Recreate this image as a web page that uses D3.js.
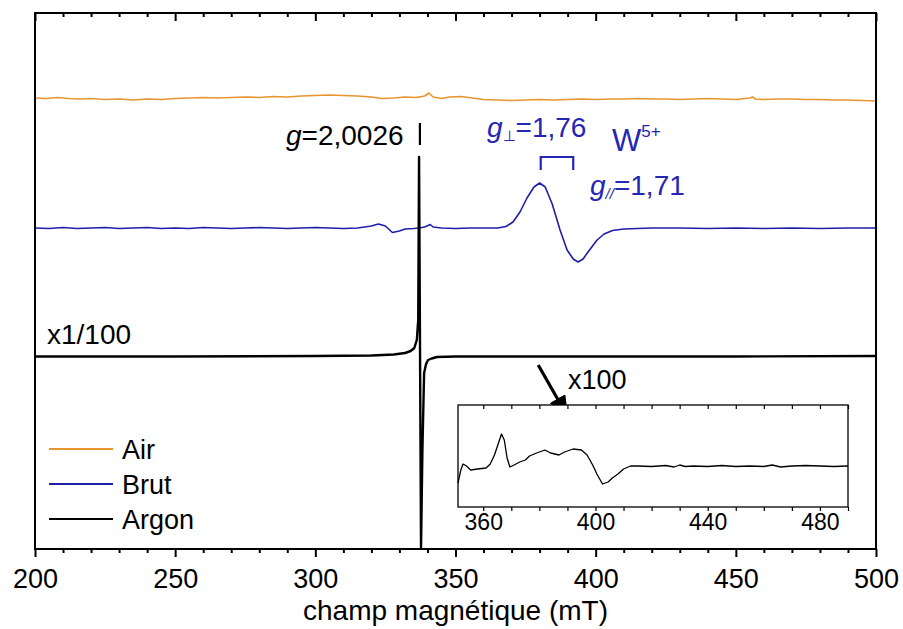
<!DOCTYPE html>
<html><head><meta charset="utf-8">
<script src="https://cdn.jsdelivr.net/npm/d3@7"></script>
<style>body{margin:0;background:#fff}svg{display:block;font-family:"Liberation Sans",Arial,sans-serif}</style>
</head><body><svg id="c" width="903" height="629"></svg>
<script>
// ---- data (field in mT, intensity in arbitrary units, traces offset vertically) ----
const airField = [200,204,208,212,216,220,225,230,235,240,245,250,255,260,265,270,275,280,285,290,295,300,305,310,315,320,324,328,332,336,339,340.5,342,345,348,352,356,360,365,370,375,380,385,390,395,400,405,410,415,420,425,430,435,440,445,450,455,456,457,460,465,470,475,480,485,490,495,500];
const airValues = [451,450.5,451.5,450.5,450,450.5,449.5,450,449,450,449.5,450.5,451,451.5,451,451.5,452,451.5,452.5,452,453,453.5,454,453.5,453,452,450.5,451,452,451.5,453,456,452,450.5,452,452.5,451,449.5,449,448.5,449,449.5,449,449.5,450,449.5,450,450,450.5,450,450,449.5,450,450.5,450,449.5,451,452,450,449.5,450,450,449.5,449.5,449,449,448.5,448];

const brutField = [200,205,210,215,220,225,230,235,240,245,250,255,260,265,270,275,280,285,290,295,300,305,310,315,320,322.5,325,327.5,330,332,335,337,339,341,342,345,350,355,360,365,368,370.5,373,375.5,378,380,382,384.5,387.3,389.8,392,393.7,395.5,397,400.5,403,406,410,415,420,430,440,450,460,470,480,490,500];
const brutValues = [321,320.5,321.5,320.5,321,321.5,320.5,321,321.5,320.5,321,320.5,321.5,321,320.5,321,321.5,321,320.5,321,321.5,321,320.5,321,323,325,323,316.5,318,320,320.5,321,322,324.5,322,321,320.5,321,321,321,322.5,327,337,351,362,366,362,345,319,299,290,287,290,296,309,315,318.5,320,320.5,321,321,320.5,321,320.5,321,320.5,321,321];

const argonField = [200,250,300,320,328,332,334,335.3,336.2,336.7,337.0,337.7,338.2,338.8,339.5,340.2,341.5,343.4,350,400,450,500];
const argonValues = [192.5,192.5,193,193.5,194.5,196,198,201,209,229,392,2,99,176,185,189,190.5,192,192.5,192.5,192.5,193];

const insetField = [351,352,352.8,354,355.5,358,361,362.5,364,366.5,367.5,368.5,369.5,371,373,375,376.5,379,382,384,387,389,392,395,397,399,400.5,402.5,404.5,406,408,410,412.5,415,420,425,428,430,432,435,440,445,450,455,460,463,466,470,475,480,485,490];
const insetValues = [24,37,43,41,37,38,39,43,52,73,67,49,40,42,45,47,51,54,57,54,52,55,58,57,52,42,33,23,25,29,33,38,41,41,40.5,41.5,40,42,40.5,41,40.5,41.5,40.5,41,40.5,42,40,41,41.5,41,40.5,41];

const seriesNames = ["Air","Brut","Argon"];
const seriesColors = ["#E8952F","#1E1EA8","#000000"];
const xMajorTicks = [200,250,300,350,400,450,500];
const insetMajorTicks = [360,400,440,480];
const xTitle = "champ magnétique (mT)";

// ---- layout ----
const svg = d3.select("#c");
const L=35,R=876,T=13,B=549;
const x = d3.scaleLinear().domain([200,500]).range([L,R]);
const y = d3.scaleLinear().domain([0,536]).range([B,T]);

const line = d3.line().x(d=>x(d[0])).y(d=>y(d[1]));
const series = [
  {f:airField,v:airValues,w:1.6},
  {f:brutField,v:brutValues,w:1.6},
  {f:argonField,v:argonValues,w:2.4}
];
series.forEach((s,i)=>{
  svg.append("path").datum(s.f.map((f,j)=>[f,s.v[j]]))
    .attr("d",line).attr("fill","none").attr("stroke",seriesColors[i])
    .attr("stroke-width",s.w).attr("stroke-linejoin","round");
});

// frame
svg.append("rect").attr("x",L).attr("y",T).attr("width",R-L).attr("height",B-T)
  .attr("fill","none").attr("stroke","#000").attr("stroke-width",2);

const minor = d3.range(200,501,10).filter(v=>v%50!==0);
function ax(g){g.select(".domain").remove();g.selectAll("line").attr("stroke","#000").attr("stroke-width",2);}
svg.append("g").attr("transform",`translate(0,${B})`)
  .call(d3.axisBottom(x).tickValues(minor).tickSize(4).tickFormat(""))
  .call(ax);
const bx = svg.append("g").attr("transform",`translate(0,${B})`)
  .call(d3.axisBottom(x).tickValues(xMajorTicks).tickSize(8).tickFormat(d3.format("d")))
  .call(ax);
bx.selectAll("text").attr("y",39).attr("dy",0).attr("font-size",27).attr("fill","#000")
  .attr("font-family","'Liberation Sans',Arial,sans-serif");
svg.append("g").attr("transform",`translate(0,${T})`)
  .call(d3.axisTop(x).tickValues(minor).tickSize(-4).tickFormat("")).call(ax);
svg.append("g").attr("transform",`translate(0,${T})`)
  .call(d3.axisTop(x).tickValues(xMajorTicks).tickSize(-8).tickFormat("")).call(ax);

svg.append("text").attr("x",(L+R)/2).attr("y",620).attr("text-anchor","middle")
  .attr("font-size",28).text(xTitle);

// legend
const legY=[449,484,519];
seriesNames.forEach((n,i)=>{
  svg.append("line").attr("x1",49).attr("x2",113).attr("y1",legY[i]).attr("y2",legY[i])
    .attr("stroke",seriesColors[i]).attr("stroke-width",1.8);
  svg.append("text").attr("x",122).attr("y",legY[i]+10).attr("font-size",27).text(n);
});

// annotations
svg.append("text").attr("x",47).attr("y",344).attr("font-size",28).text("x1/100");
const gt = svg.append("text").attr("x",286).attr("y",145).attr("font-size",28);
gt.append("tspan").attr("font-style","italic").text("g");
gt.append("tspan").text("=2,0026");
svg.append("line").attr("x1",x(337.3)).attr("x2",x(337.3)).attr("y1",y(426)).attr("y2",y(404))
  .attr("stroke","#000").attr("stroke-width",2.2);

const blue="#2626B4";
const g1 = svg.append("text").attr("x",487).attr("y",137).attr("font-size",28).attr("fill",blue);
g1.append("tspan").attr("font-style","italic").text("g");
g1.append("tspan").attr("font-size",15).attr("dy",4).text("⊥");
g1.append("tspan").attr("dy",-4).text("=1,76");
const w = svg.append("text").attr("x",612).attr("y",151).attr("font-size",31).attr("fill",blue);
w.append("tspan").text("W");
w.append("tspan").attr("font-size",17).attr("dy",-14).text("5+");
const g2 = svg.append("text").attr("x",590).attr("y",195).attr("font-size",28).attr("fill",blue);
g2.append("tspan").attr("font-style","italic").text("g");
g2.append("tspan").attr("font-size",15).attr("dy",4).attr("font-style","italic").text("//");
g2.append("tspan").attr("dy",-4).text("=1,71");
svg.append("path")
  .attr("d",`M${x(380.4)},${y(379)}V${y(392)}H${x(392)}V${y(379)}`)
  .attr("fill","none").attr("stroke",blue).attr("stroke-width",2.2);

// arrow + x100
svg.append("defs").append("marker").attr("id","ah").attr("markerUnits","userSpaceOnUse")
  .attr("viewBox","0 0 22 18").attr("refX",20).attr("refY",9)
  .attr("markerWidth",22).attr("markerHeight",18).attr("orient","auto")
  .append("path").attr("d","M0,0L22,9L0,18Z").attr("fill","#000");
svg.append("line").attr("x1",x(379.5)).attr("y1",y(184)).attr("x2",x(389.9)).attr("y2",y(133))
  .attr("stroke","#000").attr("stroke-width",3.2).attr("marker-end","url(#ah)");
svg.append("text").attr("x",568).attr("y",389).attr("font-size",27).text("x100");

// inset
const iL=458,iR=848,iT=405,iB=507;
const xi = d3.scaleLinear().domain([351,490]).range([iL,iR]);
const yi = d3.scaleLinear().domain([0,102]).range([iB,iT]);
svg.append("rect").attr("x",iL).attr("y",iT).attr("width",iR-iL).attr("height",iB-iT)
  .attr("fill","#fff").attr("stroke","#000").attr("stroke-width",1.3);
svg.append("path").datum(insetField.map((f,j)=>[f,insetValues[j]]))
  .attr("d",d3.line().x(d=>xi(d[0])).y(d=>yi(d[1])))
  .attr("fill","none").attr("stroke","#000").attr("stroke-width",1.3).attr("stroke-linejoin","round");
const iTicks = d3.range(360,491,10);
function ax2(g){g.select(".domain").remove();g.selectAll("line").attr("stroke","#000").attr("stroke-width",1.2);}
const ib = svg.append("g").attr("transform",`translate(0,${iB})`)
  .call(d3.axisBottom(xi).tickValues(iTicks).tickSize(4).tickFormat(d=>insetMajorTicks.includes(d)?d:""))
  .call(ax2);
ib.selectAll("text").attr("y",23).attr("dy",0).attr("font-size",23).attr("fill","#000")
  .attr("font-family","'Liberation Sans',Arial,sans-serif");
svg.append("g").attr("transform",`translate(0,${iT})`)
  .call(d3.axisTop(xi).tickValues(iTicks).tickSize(-4).tickFormat("")).call(ax2);
</script></body></html>
